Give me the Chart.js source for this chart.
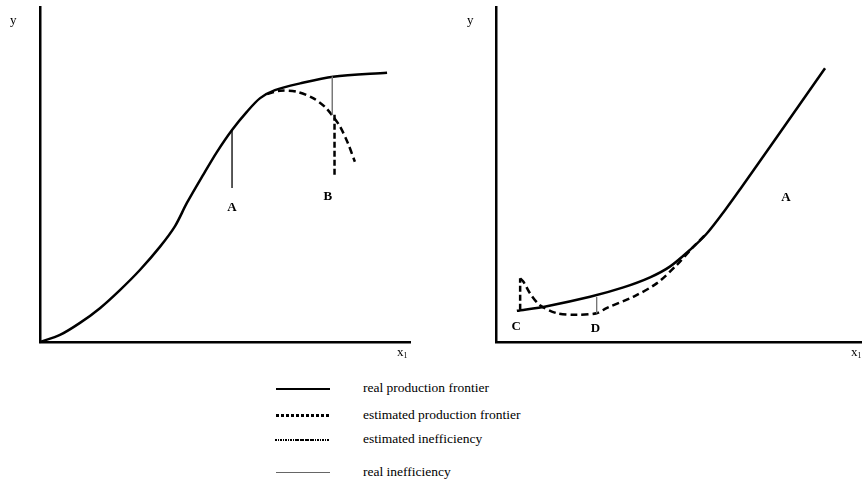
<!DOCTYPE html>
<html lang="en">
  <head>
    <meta charset="utf-8">
    <title>Real and estimated production frontiers</title>
    <style>
      body {padding: 0; margin: 0; background: #fff;}
      #wrap {position: relative; width: 862px; height: 479px; font-family: "Liberation Serif", serif; font-size: 13px; color: #000;}
      .panel {position: absolute; top: 0;}
      .lbl {position: absolute; line-height: 12px;}
      .lbl sub {font-size: 8px; vertical-align: -2px;}
      .key {position: absolute; left: 276px; width: 54px;}
      .txt {position: absolute; left: 363px; line-height: 14px; font-size: 13.5px; white-space: nowrap;}
    </style>
    <script src="https://cdn.jsdelivr.net/npm/chart.js@4/dist/chart.umd.min.js"></script>
  </head>
  <body>
    <div id="wrap">
      <canvas id="leftChart" class="panel" style="left:0px" width="420" height="350"></canvas>
      <canvas id="rightChart" class="panel" style="left:430px" width="432" height="350"></canvas>

      <span class="lbl" style="left:10px; top:14px">y</span>
      <span class="lbl" style="left:397px; top:346px">x<sub>1</sub></span>
      <span class="lbl" style="left:467px; top:14px">y</span>
      <span class="lbl" style="left:851px; top:346px">x<sub>1</sub></span>

      <div class="key" style="top:388px; height:2px; background:#000"></div>
      <div class="txt" style="top:381px">real production frontier</div>
      <div class="key" style="top:414px; height:3px; background:repeating-linear-gradient(90deg,#000 0 3px,transparent 3px 5px)"></div>
      <div class="txt" style="top:408px">estimated production frontier</div>
      <div class="key" style="top:439px; left:275px; height:2px; background:repeating-linear-gradient(90deg,#000 0 1.5px,transparent 1.5px 2.5px)"></div>
      <div class="txt" style="top:432px">estimated inefficiency</div>
      <div class="key" style="top:472px; height:1px; background:#666"></div>
      <div class="txt" style="top:465px">real inefficiency</div>
    </div>
    <script>

      // left panel: S-shaped frontier
      var leftRealX = [0, 5.4, 10.8, 16.2, 21.6, 27, 32.4, 36.5, 39.7, 44.1, 47.8, 51.9, 55.9, 59.5, 63.5, 70.3, 79.2, 93.8];
      var leftRealY = [0, 2.1, 5.7, 10.1, 15.5, 21.5, 28.4, 34.6, 41.5, 49.9, 56.7, 63.3, 68.7, 72.8, 75.2, 77.2, 79.2, 80.4];
      var leftEstX = [61.4, 64.9, 69.4, 73.8, 77, 79.2, 81.1, 83.2, 85.1];
      var leftEstY = [74, 75, 74.7, 72.8, 70.2, 67.3, 64.3, 59.4, 53.8];
      var leftAX = [51.9, 51.9];
      var leftAY = [63.3, 46];
      var leftBRealX = [79, 79];
      var leftBRealY = [79.2, 67.8];
      var leftBEstX = [79.6, 79.6];
      var leftBEstY = [67.8, 49.3];
      var leftLabels = ['A', 'B'];
      var leftLabelX = [51.9, 77.8];
      var leftLabelY = [40, 43.3];

      // right panel: convex frontier
      var rightRealX = [5.7, 13.9, 25.7, 34.8, 42.1, 47.5, 53, 57.6, 63, 66.7, 76.7, 89.9];
      var rightRealY = [9.3, 10.7, 13.5, 16.3, 19.3, 22.5, 27.5, 32.4, 40, 45.6, 61.1, 81.7];
      var rightEstX = [6.6, 7.5, 9.3, 12, 16.6, 22, 27.5, 30.2, 37.5, 43.9, 49.4, 53.9, 57];
      var rightEstY = [19, 18, 14.5, 11, 8.6, 8.1, 8.6, 10.1, 13.5, 17.5, 23, 28.4, 31.8];
      var rightCX = [6.6, 6.6];
      var rightCY = [9.6, 19];
      var rightDX = [27.5, 27.5];
      var rightDY = [13.4, 8.6];
      var rightLabels = ['C', 'D', 'A'];
      var rightLabelX = [5.5, 27.2, 79.2];
      var rightLabelY = [4.6, 4.1, 43.2];

      function points(xs, ys) {
        return xs.map(function (x, i) { return {x: x, y: ys[i]}; });
      }

      function line(xs, ys, color, width, dash, smooth) {
        return {
          data: points(xs, ys),
          showLine: true,
          borderColor: color,
          borderWidth: width,
          borderDash: dash || [],
          tension: smooth ? 0.3 : 0,
          pointRadius: 0,
          clip: false
        };
      }

      // letters placed through the chart's scales
      function letterPlugin(texts, xs, ys) {
        return {
          id: 'letters',
          afterDatasetsDraw: function (chart) {
            var ctx = chart.ctx;
            ctx.save();
            ctx.font = 'bold 13px "Liberation Serif"';
            ctx.fillStyle = '#000';
            ctx.textAlign = 'center';
            ctx.textBaseline = 'middle';
            for (var i = 0; i < texts.length; i++) {
              ctx.fillText(texts[i], chart.scales.x.getPixelForValue(xs[i]), chart.scales.y.getPixelForValue(ys[i]));
            }
            ctx.restore();
          }
        };
      }

      function panelOptions(padLeft, padRight) {
        var axis = {
          type: 'linear', min: 0, max: 100,
          ticks: {display: false},
          grid: {display: false, drawTicks: false},
          border: {color: '#000', width: 2.5}
        };
        return {
          responsive: false,
          animation: false,
          layout: {padding: {left: padLeft, top: 7, right: padRight, bottom: 8}},
          plugins: {legend: {display: false}, tooltip: {enabled: false}},
          scales: {x: axis, y: Object.assign({}, axis)}
        };
      }

      new Chart(document.getElementById('leftChart'), {
        type: 'scatter',
        data: {
          datasets: [
            line(leftAX, leftAY, '#000', 1.3),
            line(leftBRealX, leftBRealY, '#777', 1),
            line(leftBEstX, leftBEstY, '#000', 2.5, [6, 3]),
            line(leftEstX, leftEstY, '#000', 2.5, [7, 4], true),
            line(leftRealX, leftRealY, '#000', 2.5, null, true)
          ]
        },
        options: panelOptions(40, 10),
        plugins: [letterPlugin(leftLabels, leftLabelX, leftLabelY)]
      });

      new Chart(document.getElementById('rightChart'), {
        type: 'scatter',
        data: {
          datasets: [
            line(rightDX, rightDY, '#777', 1),
            line(rightCX, rightCY, '#000', 2.5, [6, 3]),
            line(rightEstX, rightEstY, '#000', 2.5, [7, 4], true),
            line(rightRealX, rightRealY, '#000', 2.5, null, true)
          ]
        },
        options: panelOptions(66, 0),
        plugins: [letterPlugin(rightLabels, rightLabelX, rightLabelY)]
      });
    </script>
  </body>
</html>
